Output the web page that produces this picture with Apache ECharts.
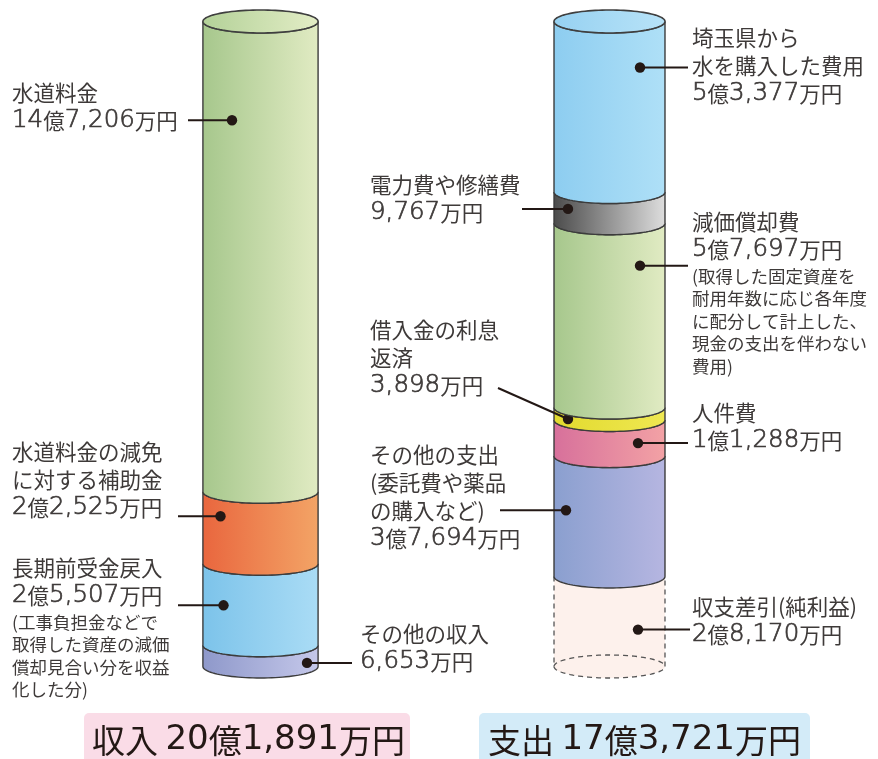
<!DOCTYPE html>
<html>
<head>
<meta charset="utf-8">
<script src="https://cdn.jsdelivr.net/npm/echarts@6/dist/echarts.min.js"></script>
<style>
  html, body { margin: 0; padding: 0; background: #fff; }
  #chart { width: 878px; height: 759px; }
</style>
</head>
<body>
<div id="chart"></div>
<script>
const categories = ['収入', '支出'];

const incomeNames = ['水道料金', '水道料金の減免に対する補助金', '長期前受金戻入', 'その他の収入'];
const incomeValues = [147206, 22525, 25507, 6653];

const expenseNames = ['埼玉県から水を購入した費用', '電力費や修繕費', '減価償却費', '借入金の利息返済', '人件費', 'その他の支出', '収支差引(純利益)'];
const expenseValues = [53377, 9767, 57697, 3898, 11288, 37694, 28170];

const incomeLabels = [
  ['水道料金', '14億7,206万円'],
  ['水道料金の減免', 'に対する補助金', '2億2,525万円'],
  ['長期前受金戻入', '2億5,507万円'],
  ['その他の収入', '6,653万円'],
];
const incomeNotes = [[], [], ['(工事負担金などで', '取得した資産の減価', '償却見合い分を収益', '化した分)'], []];

const expenseLabels = [
  ['埼玉県から', '水を購入した費用', '5億3,377万円'],
  ['電力費や修繕費', '9,767万円'],
  ['減価償却費', '5億7,697万円'],
  ['借入金の利息', '返済', '3,898万円'],
  ['人件費', '1億1,288万円'],
  ['その他の支出', '(委託費や薬品', 'の購入など)', '3億7,694万円'],
  ['収支差引(純利益)', '2億8,170万円'],
];
const expenseNotes = [[], [], ['(取得した固定資産を', '耐用年数に応じ各年度', 'に配分して計上した、', '現金の支出を伴わない', '費用)'], [], [], [], []];

const totalLabels = ['収入 20億1,891万円', '支出 17億3,721万円'];

// styles / layout (not data)
const segColors = [
  [['#a6c78c', '#e1ebc3'], ['#e9663e', '#f3a466'], ['#7cc3ea', '#aadcf5'], ['#8e98ca', '#c5c8ea']],
  [['#8dcdf0', '#afe0f7'], ['#4b4b4b', '#dedede'], ['#a6c78c', '#e1ebc3'], ['#e2da2e', '#efe852'],
   ['#d7709b', '#f3a2a5'], ['#8a9fcf', '#b6b6e1'], null],
];
const topColors = [['#b3d198', '#e3edc6'], ['#96d1f1', '#b8e3f8']];
const widthFactor = [0.165, 0.159];

const labelLayout = [
  [
    { frac: 0.21, dx: -28.5, from: [188], tx: 12, ty: 92.5 },
    { frac: 0.34, dx: -40, from: [178], tx: 12, ty: 452 },
    { frac: 0.51, dx: -37, from: [178], tx: 12, ty: 568 },
    { frac: 0.83, dx: 46.5, from: [352], tx: 360, ty: 634 },
  ],
  [
    { frac: 0.27, dx: 30.5, from: [688], tx: 692, ty: 38 },
    { frac: 0.54, dx: -41.5, from: [522], tx: 370, ty: 185 },
    { frac: 0.23, dx: 30.5, from: [688], tx: 692, ty: 222 },
    { frac: 0.92, dx: -41.5, from: [498, 388], tx: 370, ty: 330 },
    { frac: 0.64, dx: 28.5, from: [688], tx: 692, ty: 413 },
    { frac: 0.45, dx: -43.5, from: [500], tx: 370, ty: 455 },
    { frac: 0.59, dx: 28.5, from: [690], tx: 692, ty: 607 },
  ],
];

const FONT = '"Noto Sans CJK JP", "Noto Sans", sans-serif';
const NUM_FONT = '"DejaVu Sans", sans-serif';
const TEXT_COLOR = '#3e3a39';
const RY = 11.5;

const allValues = [incomeValues, expenseValues];
const allLabels = [incomeLabels, expenseLabels];
const allNotes = [incomeNotes, expenseNotes];
const total = incomeValues.reduce((a, b) => a + b, 0);

// build data bottom segment first so upper outlines stay on top
const data = [];
allValues.forEach((vals, c) => {
  const starts = [];
  let acc = 0;
  vals.forEach((v) => { starts.push(acc); acc += v; });
  for (let i = vals.length - 1; i >= 0; i--) {
    data.push([c, starts[i], starts[i] + vals[i], i]);
  }
});

// digits are set a bit larger / wider, like the printed original
function richify(t) {
  return t.replace(/[0-9,]+/g, (m) => '{d|' + m + '}');
}

function arcPts(cx, cy, rx, ry, a0, a1, n) {
  const pts = [];
  for (let k = 0; k <= n; k++) {
    const a = a0 + (a1 - a0) * k / n;
    pts.push([cx + rx * Math.cos(a), cy + ry * Math.sin(a)]);
  }
  return pts;
}

function grad(c) {
  return new echarts.graphic.LinearGradient(0, 0, 1, 0, [
    { offset: 0, color: c[0] },
    { offset: 1, color: c[1] },
  ]);
}

function renderItem(params, api) {
  const c = api.value(0);
  const s = api.value(1);
  const e = api.value(2);
  const idx = api.value(3);
  const p1 = api.coord([c, s]);
  const p2 = api.coord([c, e]);
  const cx = p1[0];
  const hw = api.size([1, 0])[0] * widthFactor[c];
  const y1 = p1[1];
  const y2 = p2[1];
  const children = [];
  const body = arcPts(cx, y1, hw, RY, Math.PI, 0, 48).concat(arcPts(cx, y2, hw, RY, 0, Math.PI, 48));
  const col = segColors[c][idx];

  if (col) {
    children.push({
      type: 'polygon',
      shape: { points: body },
      style: { fill: grad(col), stroke: '#3c3c3c', lineWidth: 1.4 },
    });
  } else {
    // 収支差引: dashed outline
    children.push({
      type: 'polygon',
      shape: { points: body },
      style: { fill: '#fdf1ec', stroke: null },
    });
    const outline = [[cx - hw, y1]].concat(arcPts(cx, y2, hw, RY, Math.PI, 0, 48)).concat([[cx + hw, y1]]);
    children.push({
      type: 'polyline',
      shape: { points: outline },
      style: { fill: null, stroke: '#555', lineWidth: 1.3, lineDash: [5, 4] },
    });
    children.push({
      type: 'polyline',
      shape: { points: arcPts(cx, y2, hw, RY, Math.PI, 2 * Math.PI, 48) },
      style: { fill: null, stroke: '#555', lineWidth: 1.3, lineDash: [5, 4] },
    });
  }

  if (idx === 0) {
    children.push({
      type: 'polygon',
      shape: { points: arcPts(cx, y1, hw, RY, 0, 2 * Math.PI, 96) },
      style: { fill: grad(topColors[c]), stroke: '#3f3f3f', lineWidth: 1.6 },
    });
  }

  // leader line, dot and label
  const lay = labelLayout[c][idx];
  const dy = api.coord([c, s + (e - s) * lay.frac])[1];
  const dxp = cx + lay.dx;
  const fx = lay.from[0];
  const fy = lay.from.length > 1 ? lay.from[1] : dy;
  children.push({
    type: 'line',
    shape: { x1: fx, y1: fy, x2: dxp, y2: dy },
    style: { stroke: '#231815', lineWidth: 2 },
  });
  children.push({
    type: 'circle',
    shape: { cx: dxp, cy: dy, r: 5.2 },
    style: { fill: '#231815' },
  });
  const lines = allLabels[c][idx];
  lines.forEach((t, k) => {
    children.push({
      type: 'text',
      x: lay.tx,
      y: lay.ty + k * 28,
      style: {
        text: richify(t), fill: TEXT_COLOR, fontSize: 21.5, fontFamily: FONT,
        align: 'left', verticalAlign: 'middle',
        rich: {
          d: {
            fontFamily: NUM_FONT, fontSize: 24.5, fontWeight: 200, fill: TEXT_COLOR,
            stroke: TEXT_COLOR, lineWidth: 0.7,
          },
        },
      },
    });
  });
  const notes = allNotes[c][idx];
  const ny = lay.ty + (lines.length - 1) * 28 + 26;
  notes.forEach((t, k) => {
    children.push({
      type: 'text',
      x: lay.tx,
      y: ny + k * 22.5,
      style: { text: t, fill: TEXT_COLOR, fontSize: 17.5, fontFamily: FONT, align: 'left', verticalAlign: 'middle' },
    });
  });

  return { type: 'group', children: children };
}

function totalText(x, t) {
  return {
    type: 'text',
    x: x,
    y: 740,
    style: {
      text: richify(t), fill: '#231815', fontSize: 33, fontFamily: FONT, align: 'left', verticalAlign: 'middle',
      rich: { d: { fontFamily: NUM_FONT, fontSize: 34, fill: '#231815' } },
    },
  };
}

const chart = echarts.init(document.getElementById('chart'));
chart.setOption({
  backgroundColor: '#ffffff',
  animation: false,
  grid: { left: 86, right: 94, top: 21.5, bottom: 92.5 },
  xAxis: { type: 'category', data: categories, show: false },
  yAxis: { type: 'value', min: 0, max: total, inverse: true, show: false },
  series: [
    {
      type: 'custom',
      renderItem: renderItem,
      encode: { x: 0, y: [1, 2] },
      data: data,
    },
  ],
  graphic: [
    {
      type: 'rect',
      shape: { x: 84, y: 713, width: 326, height: 60, r: 5 },
      style: { fill: '#fadce7' },
    },
    totalText(92, totalLabels[0]),
    {
      type: 'rect',
      shape: { x: 479, y: 713, width: 331, height: 60, r: 5 },
      style: { fill: '#d3ebf8' },
    },
    totalText(488, totalLabels[1]),
  ],
});
</script>
</body>
</html>
